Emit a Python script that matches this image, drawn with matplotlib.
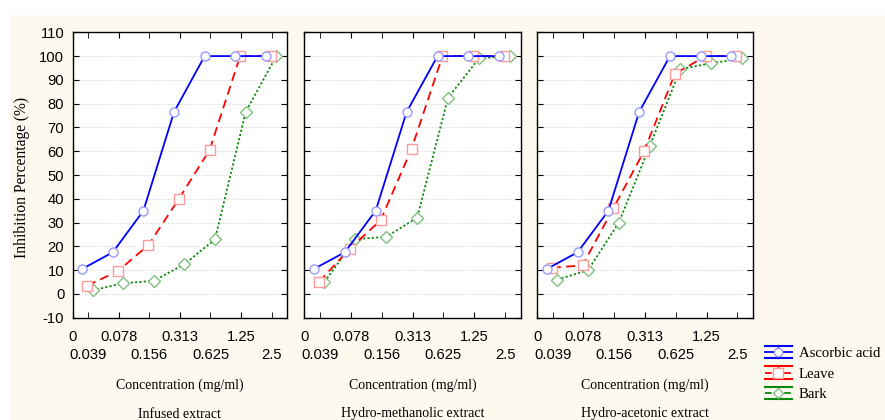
import matplotlib
matplotlib.use("Agg")
import matplotlib.pyplot as plt
from matplotlib.patches import Rectangle
from matplotlib.lines import Line2D
from matplotlib.legend_handler import HandlerBase

plt.rcParams["axes.unicode_minus"] = False

# x categories (concentration, mg/ml)
conc_pos = [0.5, 1.5, 2.5, 3.5, 4.5, 5.5, 6.5]
row1_pos = [0, 1.5, 3.5, 5.5]
row1_lab = ["0", "0.078", "0.313", "1.25"]
row2_pos = [0.5, 2.5, 4.5, 6.5]
row2_lab = ["0.039", "0.156", "0.625", "2.5"]

panels = ["Infused extract", "Hydro-methanolic extract", "Hydro-acetonic extract"]
series = ["Ascorbic acid", "Leave", "Bark"]

ascorbic = [10.5, 17.5, 35, 76.5, 100, 100, 100]
infused_leave = [3.5, 9.5, 20.5, 40, 60.5, 100, 100]
infused_bark = [1.5, 4.5, 5.5, 12.5, 23, 76.5, 100]
methanol_leave = [5, 19, 31, 61, 100, 100, 100]
methanol_bark = [5, 23, 24, 32, 82.5, 99, 100]
aceton_leave = [11, 12, 36, 60, 92.5, 100, 100]
aceton_bark = [6, 10, 30, 62, 94.5, 97, 99]

data = [
    [ascorbic, infused_leave, infused_bark],
    [ascorbic, methanol_leave, methanol_bark],
    [ascorbic, aceton_leave, aceton_bark],
]

# style per series
offsets = [-0.19, -0.03, 0.15]
colors = ["#0000ff", "#ff0000", "#0a8a0a"]
mcolors = ["#9a9aff", "#ff9a9a", "#80c080"]
lstyles = ["-", (0, (5, 3)), (0, (1.2, 1.2))]
markers = ["o", "s", "D"]
msizes = [6.5, 7, 6]

cream = "#fdf9ef"
fig = plt.figure(figsize=(8.85, 4.2), dpi=100, facecolor="white")
fig.add_artist(Rectangle((10/885, 0), 1, 405/420, transform=fig.transFigure,
                         facecolor=cream, edgecolor="none", zorder=-10))

lefts = [72.7, 304.3, 537.3]
widths = [214.3, 216.4, 215.4]
top_px, bot_px = 32.3, 317.7
serif = "Liberation Serif"
sans = "Liberation Sans"

for k, name in enumerate(panels):
    ax = fig.add_axes([lefts[k]/885, 1 - bot_px/420, widths[k]/885, (bot_px - top_px)/420])
    ax.set_facecolor("white")
    for j in range(3):
        xs = [p + offsets[j] for p in conc_pos]
        ax.plot(xs, data[k][j], color=colors[j], linestyle=lstyles[j], lw=1.3,
                marker=markers[j], ms=msizes[j], mfc="white", mec=mcolors[j], mew=1.0,
                zorder=3 + (2 - j))
    ax.set_xlim(0, 7)
    ax.set_ylim(-10, 110)
    ax.set_yticks(range(-10, 111, 10))
    ax.yaxis.grid(True, color="#d5d5d5", linestyle=(0, (1, 1.5)), lw=0.8)
    ax.set_axisbelow(True)
    ax.set_xticks(row1_pos)
    ax.set_xticklabels(row1_lab)
    ax.set_xticks(row2_pos, minor=True)
    ax.set_xticklabels(row2_lab, minor=True)
    ax.tick_params(axis="x", which="major", direction="in", length=4, top=True,
                   pad=8.5, labelsize=10.6)
    ax.tick_params(axis="x", which="minor", direction="in", length=4, top=True,
                   pad=22, labelsize=10.6)
    ax.tick_params(axis="y", direction="in", length=4, right=True, pad=6, labelsize=10.6)
    for lab in ax.get_xticklabels(which="both") + ax.get_yticklabels():
        lab.set_fontfamily(sans)
    if k > 0:
        ax.set_yticklabels([])
    for s in ax.spines.values():
        s.set_linewidth(1.0)
    cx = (lefts[k] + widths[k] / 2) / 885
    fig.text(cx, 1 - 385/420, "Concentration (mg/ml)", ha="center", va="center",
             family=serif, fontsize=10)
    fig.text(cx, 1 - 414/420, name, ha="center", va="center", family=serif, fontsize=10)

fig.text(22/885, 1 - 177/420, "Inhibition Percentage (%)", rotation=90, ha="center",
         va="center", family=serif, fontsize=11.2)


class CapHandler(HandlerBase):
    def create_artists(self, legend, orig, xd, yd, width, height, fontsize, trans):
        x0, x1 = -xd, width - xd
        ym = height / 2 - yd
        d = 4.5
        c = orig.get_color()
        arts = [
            Line2D([x0, x1], [ym + d, ym + d], color=c, lw=1.5),
            Line2D([x0, x1], [ym - d, ym - d], color=c, lw=1.5),
            Line2D([(x0 + x1) / 2] * 2, [ym - d, ym + d], color=c, lw=1.0),
            Line2D([x0, x1], [ym, ym], color=c, lw=1.3, linestyle=orig.get_linestyle()),
            Line2D([(x0 + x1) / 2], [ym], marker=orig.get_marker(), ms=orig.get_markersize(),
                   mfc="white", mec=orig.get_markeredgecolor(), lw=0),
        ]
        for a in arts:
            a.set_transform(trans)
        return arts


handles = [Line2D([], [], color=colors[j], linestyle=lstyles[j], marker=markers[j],
                  ms=msizes[j] - 0.5, mec=mcolors[j]) for j in range(3)]
leg = fig.legend(handles, series, loc="upper left", bbox_to_anchor=(765/885, 1 - 347/420),
                 frameon=False, handler_map={Line2D: CapHandler()}, handlelength=1.8,
                 handletextpad=0.5, labelspacing=0.48, borderaxespad=0, borderpad=0,
                 prop={"family": serif, "size": 10.6})

fig.savefig("out.png", dpi=100, facecolor="white")
